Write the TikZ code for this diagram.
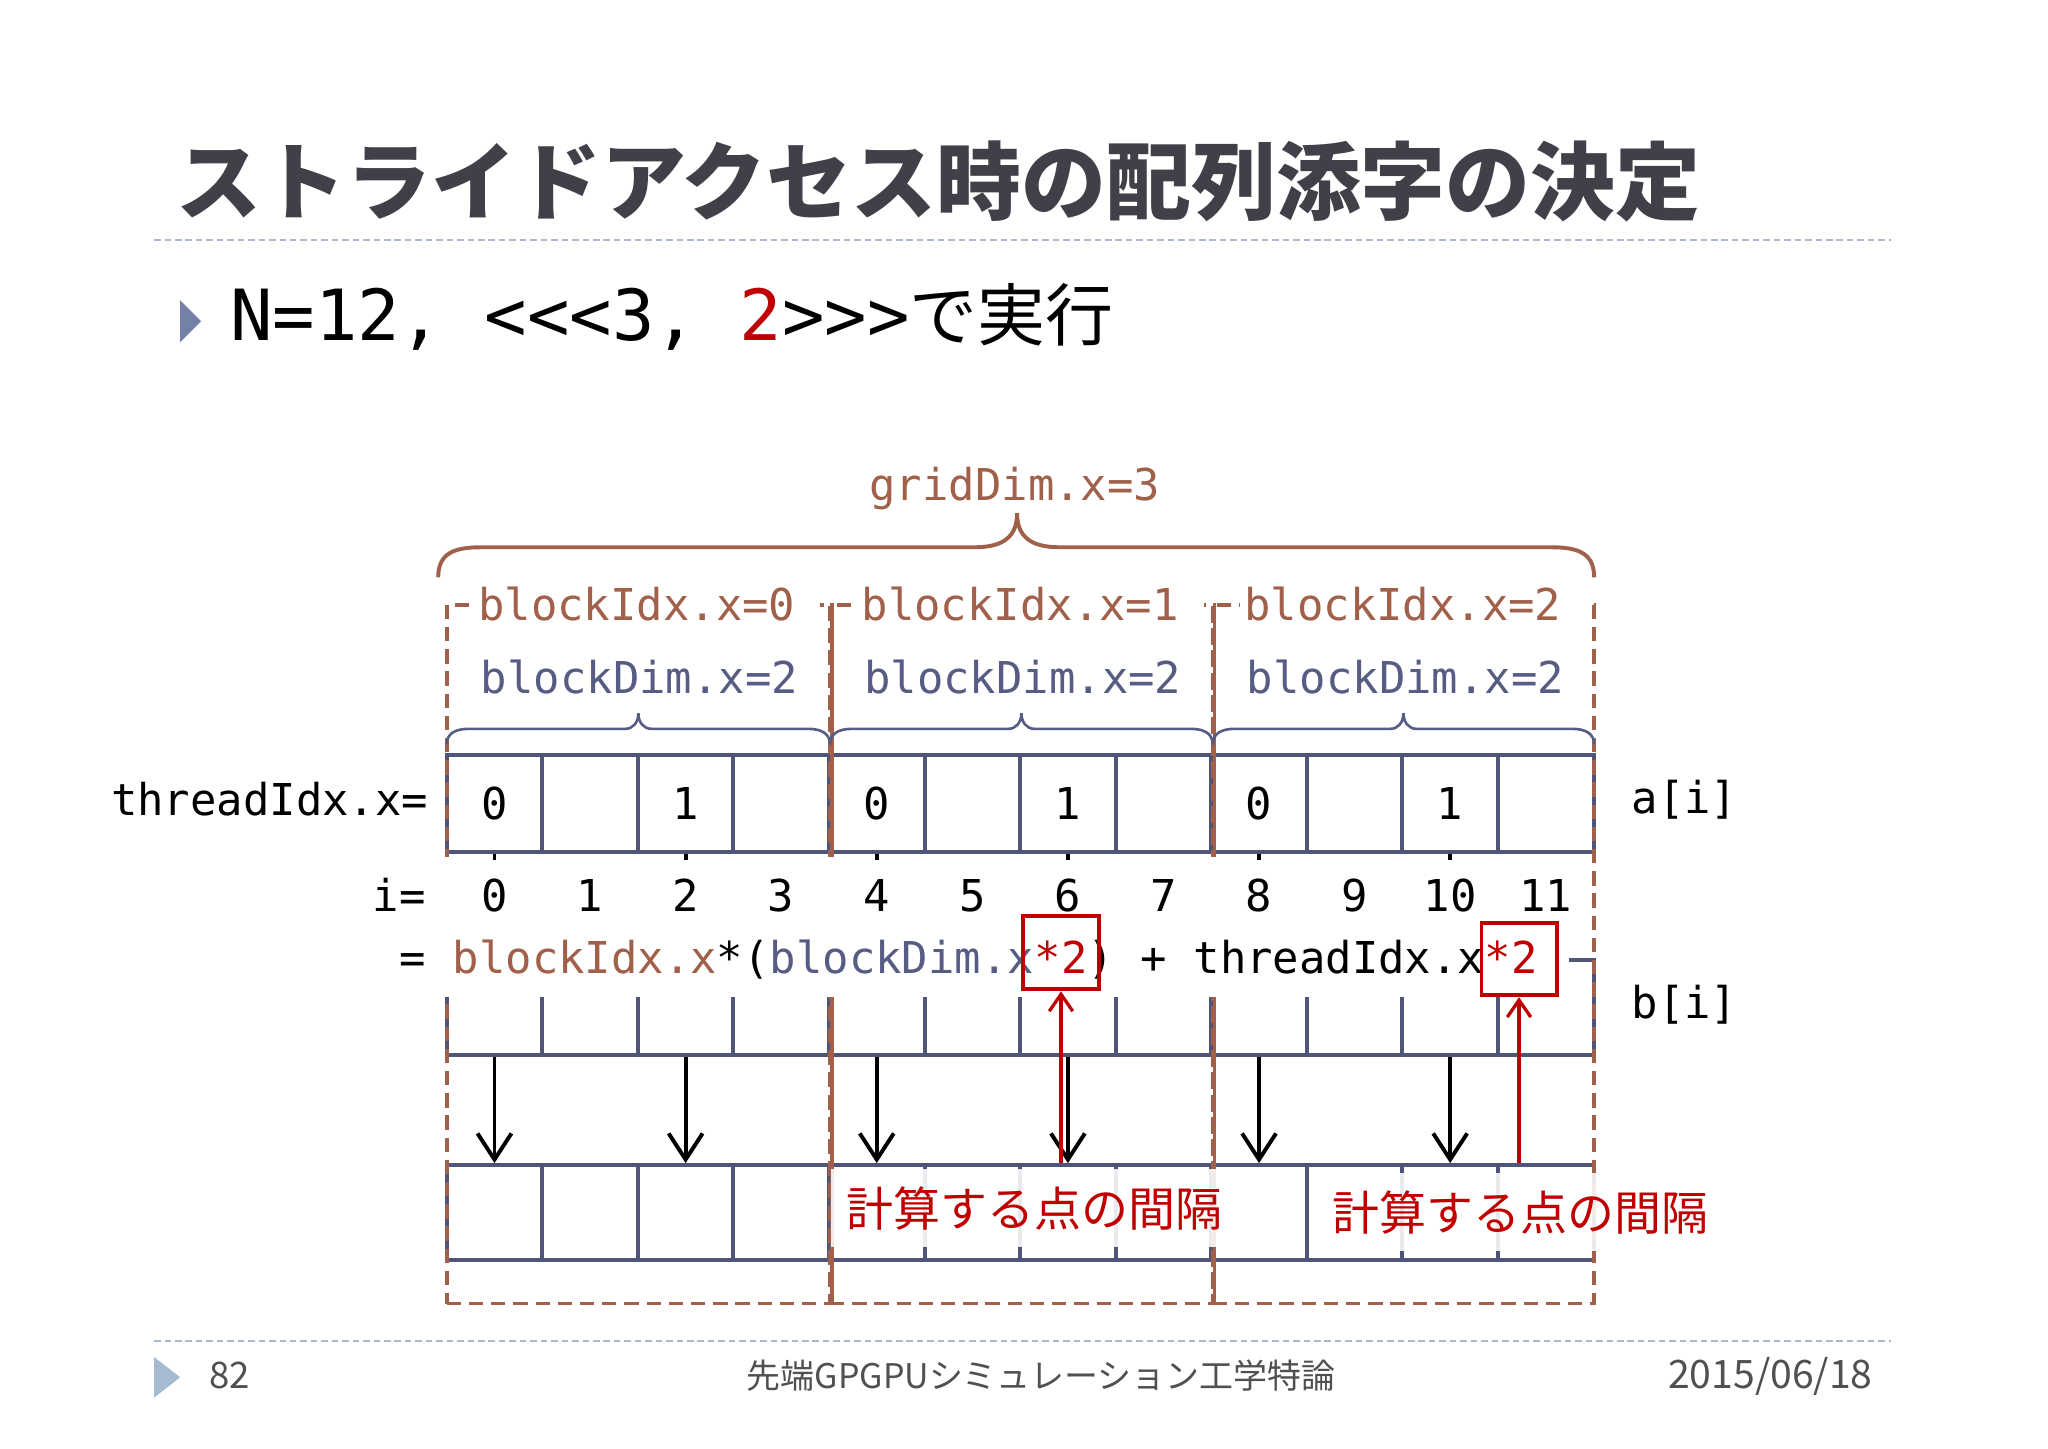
\documentclass[tikz,border=0pt]{standalone}
\usepackage{fontspec}
\usetikzlibrary{arrows.meta}
\newfontfamily\jpff{Noto Sans CJK JP}
\newfontfamily\monoff{DejaVu Sans Mono}
\definecolor{brn}{HTML}{A0604A}
\definecolor{slt}{HTML}{565C84}
\definecolor{cellc}{HTML}{4F5578}
\definecolor{rd}{HTML}{C00000}
\definecolor{ttl}{HTML}{404048}
\definecolor{rulec}{HTML}{A9B8CC}
\definecolor{bulc}{HTML}{7380A8}
\definecolor{footc}{HTML}{A6BAD2}
\definecolor{foottxt}{HTML}{505050}
\newcommand\LTc{\mbox{<}}
\newcommand\GTc{\mbox{>}}
\tikzset{
  mtxt/.style={font=\monoff\fontsize{33.6}{40}\selectfont, inner sep=0pt},
  cellbox/.style={draw=cellc, line width=3pt, minimum width=73.17pt, inner sep=0pt},
  blockbox/.style={draw=brn, line width=3pt, dash pattern=on 11pt off 6pt, inner sep=0pt},
  blockline/.style={draw=brn, line width=2.5pt},
  smallbrace/.style={draw=slt, line width=2pt},
  bigbrace/.style={draw=brn, line width=3pt},
  idxlbl/.style={mtxt, fill=white, inner sep=3pt, text=brn, anchor=base west},
  dimlbl/.style={mtxt, text=slt, anchor=base west},
  redbox/.style={draw=rd, line width=3pt, inner sep=0pt},
  redlbl/.style={fill=white, fill opacity=0.88, text opacity=1, text=rd,
    font=\jpff\fontsize{36}{40}\selectfont, inner ysep=0pt, minimum height=60pt, anchor=west},
  blkarrow/.style={draw=black, line width=3pt, -{Straight Barb[length=20pt,width=26pt]}},
  redarrow/.style={draw=rd, line width=2.5pt, -{Straight Barb[length=13pt,width=18pt]}},
  rulestyle/.style={draw=rulec, line width=1.5pt, dash pattern=on 5pt off 3pt},
  foot/.style={font=\jpff\fontsize{26}{30}\selectfont, text=foottxt, inner sep=0pt}
}
\begin{document}
\begin{tikzpicture}[x=1pt,y=-1pt]
\useasboundingbox (0,0) rectangle (1568,1109);
\fill[white] (0,0) rectangle (1568,1109);

% title and bullet
\node[anchor=west, font=\jpff\bfseries\fontsize{65}{70}\selectfont, text=ttl, inner sep=0pt] (title) at (135,139) {ストライドアクセス時の配列添字の決定};
\draw[rulestyle] (118,184) -- (1448,184);
\fill[bulc] (138,230) -- (154,246) -- (138,262) -- cycle;
\node[anchor=base west, inner sep=0pt, font=\monoff\fontsize{54}{60}\selectfont] (cmd) at (176,261)
  {N=12, \LTc\LTc\LTc 3, \textcolor{rd}{2}\GTc\GTc\GTc{\jpff\fontsize{52}{60}\selectfont で実行}};

% grid brace
\draw[bigbrace] (335.5,442) .. controls (335.5,424) and (347,419) .. (368,419) -- (746,419)
  .. controls (768,419) and (778.7,411) .. (778.7,393)
  .. controls (778.7,411) and (789.4,419) .. (811.4,419) -- (1188,419)
  .. controls (1209,419) and (1220.5,424) .. (1220.5,442);
\node[mtxt, text=brn, anchor=base] (grid) at (777,383) {gridDim.x=3};

% cells
\foreach \k in {0,...,11} {
  \node[cellbox, minimum height=74pt] (a\k) at ({342+73.17*(\k+0.5)},615) {};
  \node[cellbox, minimum height=73pt] (b\k) at ({342+73.17*(\k+0.5)},771.5) {};
  \node[cellbox, minimum height=73pt] (c\k) at ({342+73.17*(\k+0.5)},928.5) {};
}
\foreach \k/\t in {0/0,2/1,4/0,6/1,8/0,10/1}
  \node[mtxt] (t\k) at (a\k.center) {\t};

% blocks
\node[blockbox, minimum width=293.5pt, minimum height=535pt] (B0) at (488.75,730.5) {};
\node[blockbox, minimum width=293pt, minimum height=535pt] (B1) at (782,730.5) {};
\node[blockbox, minimum width=292pt, minimum height=535pt] (B2) at (1074.5,730.5) {};
\draw[blockline] (B0.north east) -- (B0.south east);
\draw[blockline] (B1.north east) -- (B1.south east);

% block labels and small braces
\foreach \i/\L/\R in {0/342/635.5, 1/635.5/928.5, 2/928.5/1220.5} {
  \draw[smallbrace] (\L,570) .. controls (\L,562) and ({\L+6},558) .. ({\L+17},558)
    -- ({(\L+\R)/2-10},558) .. controls ({(\L+\R)/2-4},558) and ({(\L+\R)/2},553) .. ({(\L+\R)/2},546)
    .. controls ({(\L+\R)/2},553) and ({(\L+\R)/2+4},558) .. ({(\L+\R)/2+10},558)
    -- ({\R-17},558) .. controls ({\R-6},558) and (\R,562) .. (\R,570);
  \node[idxlbl] (bi\i) at ({\L+21},475) {blockIdx.x=\i\rule{16pt}{0pt}};
  \node[dimlbl] (bd\i) at ({\L+26},531) {blockDim.x=2};
}

% mask for the index rows
\fill[white] (286,656) rectangle (1201,763);
\foreach \k in {0,...,11}
  \node[mtxt, anchor=base] (n\k) at (a\k.center |- 0,698) {\k};
\foreach \k in {0,2,4,6,8,10}
  \draw[line width=3pt] (a\k.south) -- ++(0,5);

\node[mtxt, anchor=base east] (tid) at (328,624) {threadIdx.x=};
\node[mtxt, anchor=base east] (ilab) at (326,698) {i=};
\node[mtxt, anchor=base west] (alab) at (1249,623) {a[i]};
\node[mtxt, anchor=base west] (blab) at (1249,780) {b[i]};

% formula
\node[mtxt, anchor=base west] (f1) at (306,745) {= \textcolor{brn}{blockIdx.x}*(\textcolor{slt}{blockDim.x}};
\node[mtxt, anchor=base west, text=rd] (f2) at (f1.base east) {*2};
\node[mtxt, anchor=base west] (f3) at (f2.base east) {) + threadIdx.x};
\node[mtxt, anchor=base west, text=rd] (f4) at (f3.base east) {*2};

% black arrows
\foreach \k in {0,2,4,6,8,10}
  \draw[blkarrow] (b\k.south) -- (c\k.north);

% red labels, boxes, arrows
\node[redlbl, inner xsep=12pt] (lab1) at (636,925) {計算する点の間隔};
\node[redlbl, inner xsep=16pt] (lab2) at (1004,928) {計算する点の間隔};
\node[redbox, minimum width=57.5pt, minimum height=56pt] (rb1) at (f2.base |- 0,729.5) {};
\node[redbox, minimum width=57.5pt, minimum height=55pt, xshift=6pt] (rb2) at (f4.base |- 0,734.5) {};
\draw[redarrow] (rb1.south |- c6.north) -- (rb1.south);
\draw[redarrow] (rb2.south |- c11.north) -- (rb2.south);

% footer
\draw[rulestyle] (118,1027) -- (1448,1027);
\fill[footc] (118,1039) -- (138,1054.5) -- (118,1070) -- cycle;
\node[foot, anchor=base west, font=\jpff\fontsize{28}{30}\selectfont] (pg) at (160,1063) {82};
\node[foot, anchor=base] (course) at (797,1063) {先端GPGPUシミュレーション工学特論};
\node[foot, anchor=base east, font=\jpff\fontsize{30}{34}\selectfont] (date) at (1434,1063) {2015/06/18};
\end{tikzpicture}
\end{document}
